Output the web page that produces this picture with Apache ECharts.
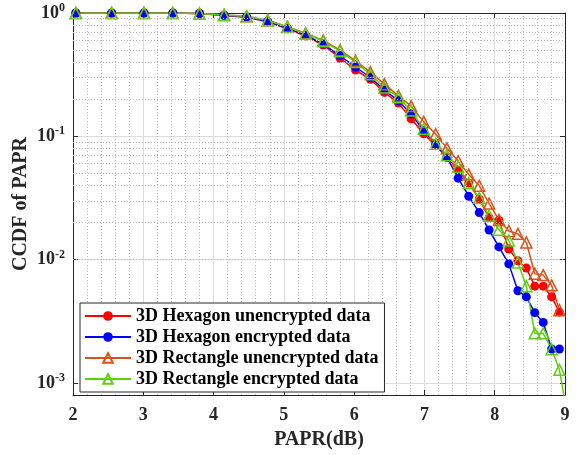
<!DOCTYPE html>
<html>
<head>
<meta charset="utf-8">
<script src="https://cdn.jsdelivr.net/npm/echarts@6/dist/echarts.min.js"></script>
<style>
  html, body { margin: 0; padding: 0; background: #fff; }
  #main { width: 579px; height: 455px; }
</style>
</head>
<body>
<div id="main"></div>
<script>
// PAPR values (dB) of the CCDF points
var paprDb = [2.04, 2.55, 3.01, 3.42, 3.80, 4.15, 4.47, 4.77, 5.05, 5.31, 5.56, 5.80, 6.02,
    6.23, 6.43, 6.63, 6.81, 6.99, 7.16, 7.32, 7.48, 7.63, 7.78, 7.92, 8.06, 8.20,
    8.33, 8.45, 8.57, 8.69, 8.81, 8.92, 9.03];

var hexUnenc = [1, 1, 1, 1, 0.99, 0.955, 0.925, 0.85, 0.745, 0.65, 0.55, 0.43, 0.345,
    0.29, 0.227, 0.186, 0.139, 0.105, 0.084, 0.068, 0.053, 0.0418, 0.031, 0.0219, 0.0208, 0.0122,
    0.0098, 0.00855, 0.0061, 0.0061, 0.005, 0.00376];
var hexEnc = [1, 1, 1, 1, 0.99, 0.96, 0.93, 0.855, 0.75, 0.66, 0.56, 0.45, 0.365,
    0.30, 0.238, 0.194, 0.152, 0.111, 0.086, 0.0675, 0.0458, 0.0327, 0.0241, 0.0174, 0.0127, 0.00925,
    0.0056, 0.005, 0.00372, 0.0031, 0.00189, 0.00189];
var rectUnenc = [1, 1, 1, 1, 0.99, 0.965, 0.94, 0.875, 0.775, 0.685, 0.60, 0.50, 0.41,
    0.332, 0.265, 0.213, 0.176, 0.131, 0.104, 0.08, 0.063, 0.049, 0.0397, 0.0285, 0.021, 0.0171,
    0.0162, 0.0138, 0.0077, 0.0075, 0.0062, 0.0039];
var rectEnc = [1, 1, 1, 1, 0.99, 0.965, 0.94, 0.87, 0.77, 0.68, 0.59, 0.49, 0.40,
    0.318, 0.249, 0.207, 0.162, 0.115, 0.087, 0.0703, 0.0567, 0.0418, 0.0316, 0.0227, 0.0175, 0.0143,
    0.0095, 0.0061, 0.00253, 0.00253, 0.00188, 0.00128, 0.00057];

var seriesNames = ['3D Hexagon unencrypted data', '3D Hexagon encrypted data',
    '3D Rectangle unencrypted data', '3D Rectangle encrypted data'];

// minor grid values of the log axis
var yMinor = [9e-4,
    2e-3, 3e-3, 4e-3, 5e-3, 6e-3, 7e-3, 8e-3, 9e-3,
    2e-2, 3e-2, 4e-2, 5e-2, 6e-2, 7e-2, 8e-2, 9e-2,
    2e-1, 3e-1, 4e-1, 5e-1, 6e-1, 7e-1, 8e-1, 9e-1];

var font = 'Liberation Serif';
var dark = '#262626';

function pairs(ys) {
    var res = [];
    for (var i = 0; i < ys.length; i++) res.push([paprDb[i], ys[i]]);
    return res;
}

function decadeLabel(v) {
    var e = Math.round(Math.log(v) / Math.LN10);
    if (Math.abs(Math.log(v) / Math.LN10 - e) > 1e-6) return '';
    return '10{sup|' + e + '}';
}

function makeSeries(name, ys, color, symbol, size, hollow) {
    return {
        name: name,
        type: 'line',
        data: pairs(ys),
        symbol: symbol,
        symbolSize: size,
        showAllSymbol: true,
        lineStyle: { color: color, width: 1.5 },
        itemStyle: hollow
            ? { color: 'rgba(255,255,255,0)', borderColor: color, borderWidth: 1.5 }
            : { color: color },
        emphasis: { disabled: true }
    };
}

var series = [
    makeSeries(seriesNames[0], hexUnenc, '#ff0000', 'circle', 9, false),
    makeSeries(seriesNames[1], hexEnc, '#0000ff', 'circle', 9, false),
    makeSeries(seriesNames[2], rectUnenc, '#d95319', 'triangle', 11, true),
    makeSeries(seriesNames[3], rectEnc, '#5fcf12', 'triangle', 11, true)
];
series[0].markLine = {
    silent: true,
    symbol: 'none',
    label: { show: false },
    lineStyle: { color: '#bdbdbd', type: [1, 2], width: 1 },
    data: yMinor.map(function (v) { return { yAxis: v }; })
};

var chart = echarts.init(document.getElementById('main'));
chart.setOption({
    backgroundColor: '#fff',
    animation: false,
    grid: { left: 73, right: 14, top: 13, bottom: 57 },
    legend: {
        left: 80,
        top: 303,
        orient: 'vertical',
        backgroundColor: '#fff',
        borderColor: dark,
        borderWidth: 1,
        borderRadius: 0,
        padding: [4, 6, 4, 4],
        itemGap: 3,
        itemWidth: 46,
        itemHeight: 12,
        textStyle: { fontFamily: font, fontWeight: 'bold', fontSize: 18, lineHeight: 18, color: '#000' },
        data: seriesNames
    },
    xAxis: [{
        type: 'value',
        min: 2,
        max: 9,
        interval: 1,
        name: 'PAPR(dB)',
        nameLocation: 'middle',
        nameGap: 35,
        nameTextStyle: { fontFamily: font, fontWeight: 'bold', fontSize: 20, color: dark },
        axisLine: { lineStyle: { color: dark, width: 1 } },
        axisTick: { inside: true, length: 5, lineStyle: { color: dark } },
        axisLabel: { fontFamily: font, fontWeight: 'bold', fontSize: 18, color: dark, margin: 11 },
        splitLine: { show: true, lineStyle: { color: '#dcdcdc', width: 1 } },
        minorTick: { show: false, splitNumber: 5 },
        minorSplitLine: { show: true, lineStyle: { color: '#bdbdbd', type: [1, 2], width: 1 } }
    }, {
        type: 'value',
        position: 'top',
        min: 2,
        max: 9,
        interval: 1,
        axisLine: { lineStyle: { color: dark, width: 1 } },
        axisTick: { inside: true, length: 5, lineStyle: { color: dark } },
        axisLabel: { show: false },
        splitLine: { show: false }
    }],
    yAxis: [{
        type: 'log',
        logBase: 10,
        min: 8e-4,
        max: 1,
        name: 'CCDF of PAPR',
        nameLocation: 'middle',
        nameGap: 42,
        nameMoveOverlap: false,
        nameTextStyle: { fontFamily: font, fontWeight: 'bold', fontSize: 20, color: dark },
        axisLine: { show: true, lineStyle: { color: dark, width: 1 } },
        axisTick: { inside: true, length: 5, lineStyle: { color: dark } },
        axisLabel: {
            formatter: decadeLabel,
            fontFamily: font, fontWeight: 'bold', fontSize: 18, color: dark, margin: 8,
            rich: {
                sup: { fontFamily: font, fontWeight: 'bold', fontSize: 12, color: dark, padding: [0, 0, 10, 0] }
            }
        },
        splitLine: { show: true, lineStyle: { color: '#dcdcdc', width: 1 } }
    }, {
        type: 'log',
        logBase: 10,
        position: 'right',
        min: 8e-4,
        max: 1,
        axisLine: { show: true, lineStyle: { color: dark, width: 1 } },
        axisTick: { inside: true, length: 5, lineStyle: { color: dark } },
        axisLabel: { show: false },
        splitLine: { show: false }
    }],
    series: series
});
</script>
</body>
</html>
